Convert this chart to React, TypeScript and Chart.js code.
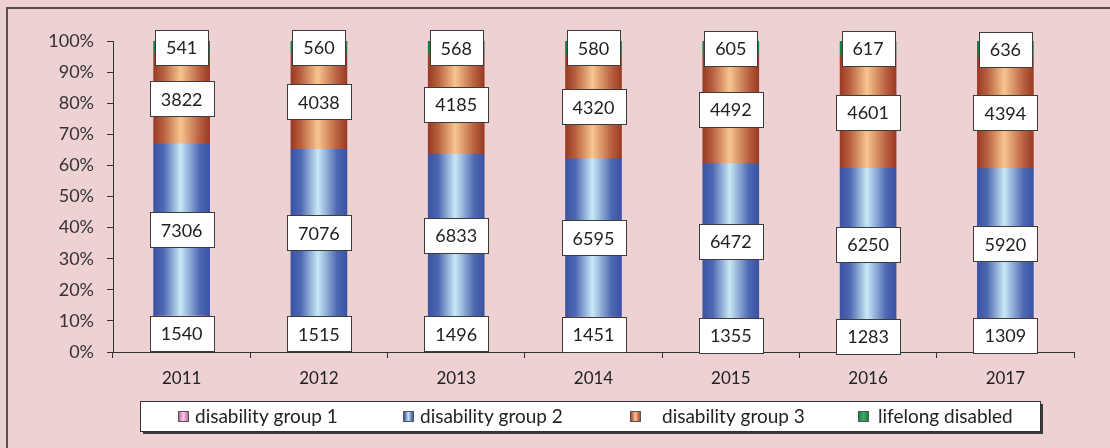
import React, { useEffect, useRef } from "react";
import { Chart, registerables } from "chart.js";

Chart.register(...registerables);

const years = ["2011", "2012", "2013", "2014", "2015", "2016", "2017"];
const group1 = [1540, 1515, 1496, 1451, 1355, 1283, 1309];
const group2 = [7306, 7076, 6833, 6595, 6472, 6250, 5920];
const group3 = [3822, 4038, 4185, 4320, 4492, 4601, 4394];
const lifelong = [541, 560, 568, 580, 605, 617, 636];
const seriesNames = ["disability group 1", "disability group 2", "disability group 3", "lifelong disabled"];
const yTicks = [0, 10, 20, 30, 40, 50, 60, 70, 80, 90, 100];

const FONT = "Lato, 'Open Sans', sans-serif";
const BG = "#EED1D3";

const gradStops: string[][] = [
  ["#A8327F", "#D77DB8", "#F4CDE6", "#D77DB8", "#A8327F"],
  ["#3A52A4", "#4E69B2", "#C8E8F6", "#4E69B2", "#3A52A4"],
  ["#9A3A24", "#B9613F", "#F7C48F", "#B9613F", "#9A3A24"],
  ["#1C7A42", "#208C4C", "#3FA866", "#208C4C", "#1C7A42"],
];
const stopPos = [0, 0.18, 0.48, 0.82, 1];

function makeGrad(ctx: CanvasRenderingContext2D, x0: number, x1: number, idx: number) {
  const g = ctx.createLinearGradient(x0, 0, x1, 0);
  gradStops[idx].forEach((c, i) => g.addColorStop(stopPos[i], c));
  return g;
}

const BAR_W = 56;

export default function App() {
  const ref = useRef<HTMLCanvasElement>(null);
  useEffect(() => {
    const canvas = ref.current!;
    const raw = [group1, group2, group3, lifelong];
    const totals = years.map((_, i) => raw.reduce((s, a) => s + a[i], 0));
    const pct = raw.map((arr) => arr.map((v, i) => (v / totals[i]) * 100));

    const bgPlugin = {
      id: "bgframe",
      beforeDraw(chart: any) {
        const c = chart.ctx;
        c.save();
        c.fillStyle = BG;
        c.fillRect(0, 0, chart.width, chart.height);
        c.strokeStyle = "#5a5050";
        c.lineWidth = 2;
        c.beginPath();
        c.moveTo(7, chart.height + 5);
        c.lineTo(7, 8);
        c.lineTo(chart.width + 5, 8);
        c.stroke();
        c.restore();
      },
    };

    const labelPlugin = {
      id: "boxlabels",
      afterDatasetsDraw(chart: any) {
        const c = chart.ctx;
        c.save();
        c.font = `18px ${FONT}`;
        c.textAlign = "center";
        c.textBaseline = "middle";
        chart.data.datasets.forEach((ds: any, di: number) => {
          const meta = chart.getDatasetMeta(di);
          meta.data.forEach((bar: any, i: number) => {
            const txt = String(raw[di][i]);
            const cy = (bar.y + bar.base) / 2;
            const w = Math.round(c.measureText(txt).width + 22);
            const h = 35;
            const x0 = Math.round(bar.x - w / 2) + 0.5;
            const y0 = Math.round(cy - h / 2) + 0.5;
            c.fillStyle = "#ffffff";
            c.fillRect(x0, y0, w, h);
            c.strokeStyle = "#3c3c3c";
            c.lineWidth = 1;
            c.strokeRect(x0, y0, w, h);
            c.fillStyle = "#222222";
            c.fillText(txt, bar.x, cy + 1);
          });
        });
        c.restore();
      },
    };

    const legendPlugin = {
      id: "boxlegend",
      afterDraw(chart: any) {
        const c = chart.ctx;
        c.save();
        const bx = 140, by = 401, bw = 900, bh = 30;
        c.fillStyle = "#3a3a3a";
        c.fillRect(bx + 3, by + 3, bw, bh);
        c.fillStyle = "#ffffff";
        c.fillRect(bx, by, bw, bh);
        c.strokeStyle = "#333";
        c.lineWidth = 1;
        c.strokeRect(bx + 0.5, by + 0.5, bw, bh);
        const markerX = [178, 403, 630, 858];
        const textX = [195, 420, 662, 878];
        c.font = `19px ${FONT}`;
        c.textBaseline = "middle";
        c.textAlign = "left";
        seriesNames.forEach((name, i) => {
          const mx = markerX[i], my = by + 10;
          c.fillStyle = makeGrad(c, mx, mx + 11, i);
          c.fillRect(mx, my, 11, 11);
          c.strokeStyle = "#555";
          c.strokeRect(mx + 0.5, my + 0.5, 10, 10);
          c.fillStyle = "#222";
          c.fillText(name, textX[i], by + bh / 2 + 1);
        });
        c.restore();
      },
    };

    const chart = new Chart(canvas, {
      type: "bar",
      data: {
        labels: years,
        datasets: pct.map((d, di) => ({
          label: seriesNames[di],
          data: d,
          barThickness: BAR_W,
          borderWidth: 0,
          backgroundColor: (ctx: any) => {
            const ch = ctx.chart;
            const xs = ch.scales && ch.scales.x;
            if (!xs || ctx.dataIndex === undefined) return gradStops[di][2];
            const x = xs.getPixelForValue(ctx.dataIndex);
            if (!Number.isFinite(x)) return gradStops[di][2];
            return makeGrad(ch.ctx, x - BAR_W / 2, x + BAR_W / 2, di);
          },
        })),
      },
      options: {
        responsive: false,
        animation: false,
        layout: { padding: { left: 0, right: 36, top: 41, bottom: 56 } },
        plugins: { legend: { display: false }, tooltip: { enabled: false } },
        scales: {
          x: {
            stacked: true,
            grid: { display: true, drawOnChartArea: false, offset: true, tickLength: 6, color: "#333", lineWidth: 1 },
            border: { display: true, color: "#333", width: 1 },
            ticks: { color: "#222", font: { family: FONT, size: 17 }, padding: 10, maxRotation: 0 },
            afterFit: (s: any) => { s.height = 40; },
          },
          y: {
            stacked: true,
            min: 0,
            max: 100,
            afterBuildTicks: (s: any) => { s.ticks = yTicks.map((v) => ({ value: v })); },
            grid: { display: true, drawOnChartArea: false, tickLength: 6, color: "#333", lineWidth: 1 },
            border: { display: true, color: "#333", width: 1 },
            ticks: { color: "#333", font: { family: FONT, size: 18 }, padding: 13, callback: (v: any) => v + "%" },
            afterFit: (s: any) => { s.width = 113; },
          },
        },
      },
      plugins: [bgPlugin, labelPlugin, legendPlugin],
    });
    return () => chart.destroy();
  }, []);

  return (
    <div style={{ position: "fixed", left: 0, top: 0, width: 1110, height: 448, background: BG }}>
      <canvas ref={ref} width={1110} height={448} style={{ display: "block" }} />
    </div>
  );
}
